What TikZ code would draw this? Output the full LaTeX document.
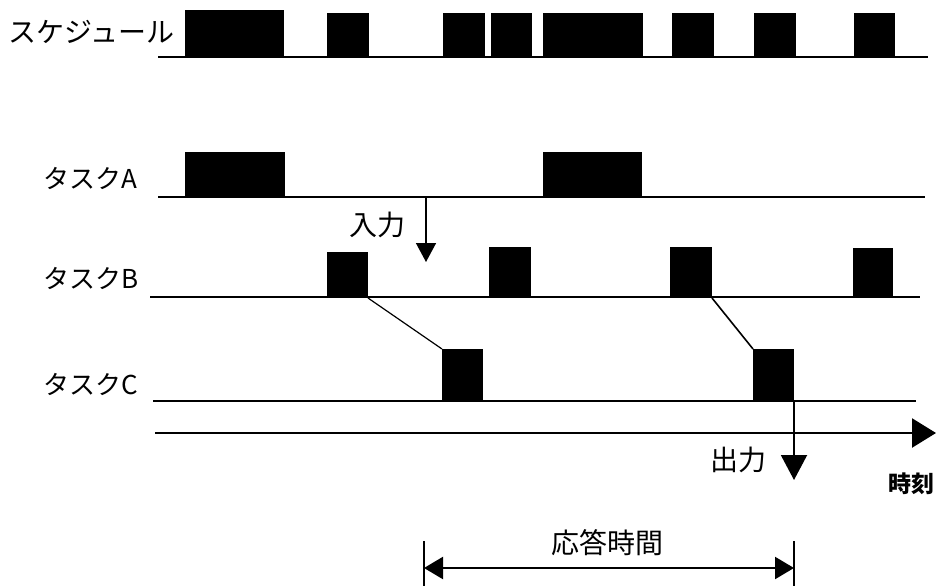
\documentclass[tikz,border=0pt]{standalone}
\usepackage{fontspec}
\setmainfont{Noto Sans CJK JP}
\usetikzlibrary{arrows.meta}

\tikzset{
  blk/.style={fill=black, draw=none, inner sep=0pt, outer sep=0pt, anchor=south west},
  tline/.style={line width=1.4pt},
  lbl/.style={inner sep=0pt, font=\fontsize{26}{26}\selectfont},
  note/.style={inner sep=0pt, font=\fontsize{28}{28}\selectfont}
}

\begin{document}
\begin{tikzpicture}[x=1pt, y=-1pt]
    \useasboundingbox (0,0) rectangle (939,586);
    % row labels
    \node [note, anchor=west] (lsched) at (8,32) {スケジュール};
    \node [lbl, anchor=west] (la) at (43,178) {タスクA};
    \node [lbl, anchor=west] (lb) at (43,278) {タスクB};
    \node [lbl, anchor=west] (lc) at (43,384) {タスクC};
    % time lines
    \draw [tline] (158,57) -- (928,57);
    \draw [tline] (158,197) -- (925,197);
    \draw [tline] (150,297) -- (920,297);
    \draw [tline] (153,401) -- (916,401);
    % schedule
    \node [blk, minimum width=99pt, minimum height=48pt] (s1) at (185,58) {};
    \node [blk, minimum width=42pt, minimum height=45pt] (s2) at (327,58) {};
    \node [blk, minimum width=42pt, minimum height=45pt] (s3) at (443,58) {};
    \node [blk, minimum width=41pt, minimum height=45pt] (s4) at (491,58) {};
    \node [blk, minimum width=100pt, minimum height=45pt] (s5) at (543,58) {};
    \node [blk, minimum width=42pt, minimum height=45pt] (s6) at (672,58) {};
    \node [blk, minimum width=42pt, minimum height=45pt] (s7) at (754,58) {};
    \node [blk, minimum width=41pt, minimum height=45pt] (s8) at (854,58) {};
    % task A
    \node [blk, minimum width=100pt, minimum height=46pt] (a1) at (185,198) {};
    \node [blk, minimum width=99pt, minimum height=46pt] (a2) at (543,198) {};
    % task B
    \node [blk, minimum width=41pt, minimum height=46pt] (b1) at (327,298) {};
    \node [blk, minimum width=42pt, minimum height=51pt] (b2) at (489,298) {};
    \node [blk, minimum width=42pt, minimum height=51pt] (b3) at (670,298) {};
    \node [blk, minimum width=40pt, minimum height=50pt] (b4) at (853,298) {};
    % task C
    \node [blk, minimum width=41pt, minimum height=53pt] (c1) at (442,402) {};
    \node [blk, minimum width=41pt, minimum height=53pt] (c2) at (753,402) {};
    % hand-over from B to C
    \draw [line width=1.2pt] (b1.south east) -- (c1.north west);
    \draw [line width=1.6pt] (b3.south east) -- (c2.north west);
    % input
    \coordinate (in0) at (426,197);
    \coordinate (in1) at (426,262);
    \draw [line width=1.5pt, -{Triangle[width=20pt,length=19pt]}] (in0) -- (in1);
    \node [note] (lin) at (377,225) {入力};
    % time axis
    \coordinate (t0) at (155,433);
    \coordinate (t1) at (936,433);
    \draw [line width=2.4pt, -{Triangle[width=29pt,length=24pt]}] (t0) -- (t1);
    \node [inner sep=0pt, font=\fontsize{23}{23}\selectfont\bfseries] (ltime) at (911,484) {時刻};
    % output
    \coordinate (out) at (794,480);
    \draw [line width=2pt, -{Triangle[width=26pt,length=25pt]}] (c2.south east) -- (out);
    \node [note] (lout) at (738,460) {出力};
    % response time
    \coordinate (r0) at (424,568);
    \coordinate (r1) at (794,568);
    \draw [line width=1.4pt] (r0 |- 0,541) -- (r0 |- 0,586);
    \draw [line width=1.4pt] (r1 |- 0,541) -- (r1 |- 0,586);
    \draw [line width=2.2pt, {Triangle[width=22pt,length=19pt]}-{Triangle[width=22pt,length=19pt]}] (r0) -- (r1);
    \node [note] (lresp) at (607,543) {応答時間};
\end{tikzpicture}
\end{document}
